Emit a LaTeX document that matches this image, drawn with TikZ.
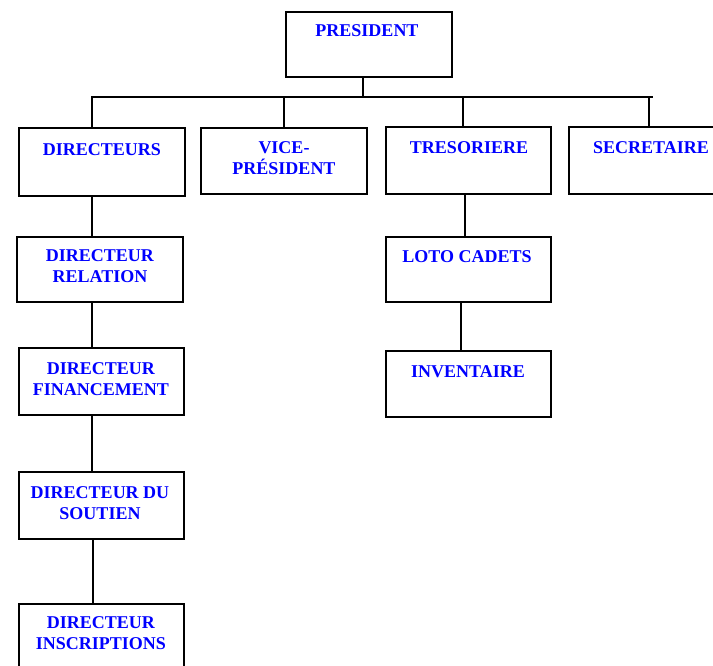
\documentclass[tikz,border=0pt]{standalone}
\usepackage{fontspec}
\setmainfont{Liberation Serif}
\begin{document}
\begin{tikzpicture}[x=1pt,y=-1pt,
  box/.style={draw=black, line width=1.6pt, fill=white, anchor=north west, inner sep=0pt, outer sep=0pt},
  lbl/.style={text=blue, font=\fontsize{18}{20.5}\selectfont\bfseries, align=center, anchor=base, inner sep=0pt},
  conn/.style={draw=black, line width=1.5pt}]
\useasboundingbox (0,0) rectangle (713,665);
\clip (0,0) rectangle (713,665);
\fill[white] (0,0) rectangle (713,665);
% boxes
\node[box, minimum width=166pt, minimum height=65pt] (pres) at (286,12) {};
\node[box, minimum width=166pt, minimum height=68pt] (dirs) at (19,128) {};
\node[box, minimum width=166pt, minimum height=66pt] (vice) at (201,128) {};
\node[box, minimum width=165pt, minimum height=67pt] (treso) at (386,127) {};
\node[box, minimum width=166pt, minimum height=67pt] (sec) at (569,127) {};
\node[box, minimum width=166pt, minimum height=65pt] (rel) at (17,237) {};
\node[box, minimum width=165pt, minimum height=67pt] (fin) at (19,348) {};
\node[box, minimum width=165pt, minimum height=67pt] (sout) at (19,472) {};
\node[box, minimum width=165pt, minimum height=80pt] (insc) at (19,604) {};
\node[box, minimum width=165pt, minimum height=65pt] (loto) at (386,237) {};
\node[box, minimum width=165pt, minimum height=66pt] (inv) at (386,351) {};
% labels (base = baseline of last line)
\node[lbl] (tpres) at (367,36) {PRESIDENT};
\node[lbl] (tdirs) at (102,155) {DIRECTEURS};
\node[lbl] (tvice) at (284,174) {VICE-\\PRÉSIDENT};
\node[lbl] (ttreso) at (469,153) {TRESORIERE};
\node[lbl] (tsec) at (651,153) {SECRETAIRE};
\node[lbl] (trel) at (100,282) {DIRECTEUR\\RELATION};
\node[lbl] (tfin) at (101,395) {DIRECTEUR\\FINANCEMENT};
\node[lbl] (tsout) at (100,519) {DIRECTEUR DU\\SOUTIEN};
\node[lbl] (tinsc) at (101,649) {DIRECTEUR\\INSCRIPTIONS};
\node[lbl] (tloto) at (467,262) {LOTO CADETS};
\node[lbl] (tinv) at (468,377) {INVENTAIRE};
% connectors
\coordinate (bus) at (363,97);
\coordinate (busR) at (653,97);
\draw[conn] (pres.south -| bus) -- (bus);
\draw[conn] ([xshift=-10pt]dirs.north) |- (busR);
\draw[conn] (vice.north) -- (vice.north |- bus);
\draw[conn] ([xshift=-5.5pt]treso.north) -- ([xshift=-5.5pt]treso.north |- bus);
\draw[conn] ([xshift=-3pt]sec.north) -- ([xshift=-3pt]sec.north |- bus);
\draw[conn] ([xshift=-10pt]dirs.south) -- ([xshift=-8pt]rel.north);
\draw[conn] ([xshift=-8pt]rel.south) -- ([xshift=-9.5pt]fin.north);
\draw[conn] ([xshift=-9.5pt]fin.south) -- ([xshift=-9.5pt]sout.north);
\draw[conn] ([xshift=-8.5pt]sout.south) -- ([xshift=-8.5pt]insc.north);
\draw[conn] ([xshift=-3.5pt]treso.south) -- ([xshift=-3.5pt]loto.north);
\draw[conn] ([xshift=-7.5pt]loto.south) -- ([xshift=-7.5pt]inv.north);
\end{tikzpicture}
\end{document}
